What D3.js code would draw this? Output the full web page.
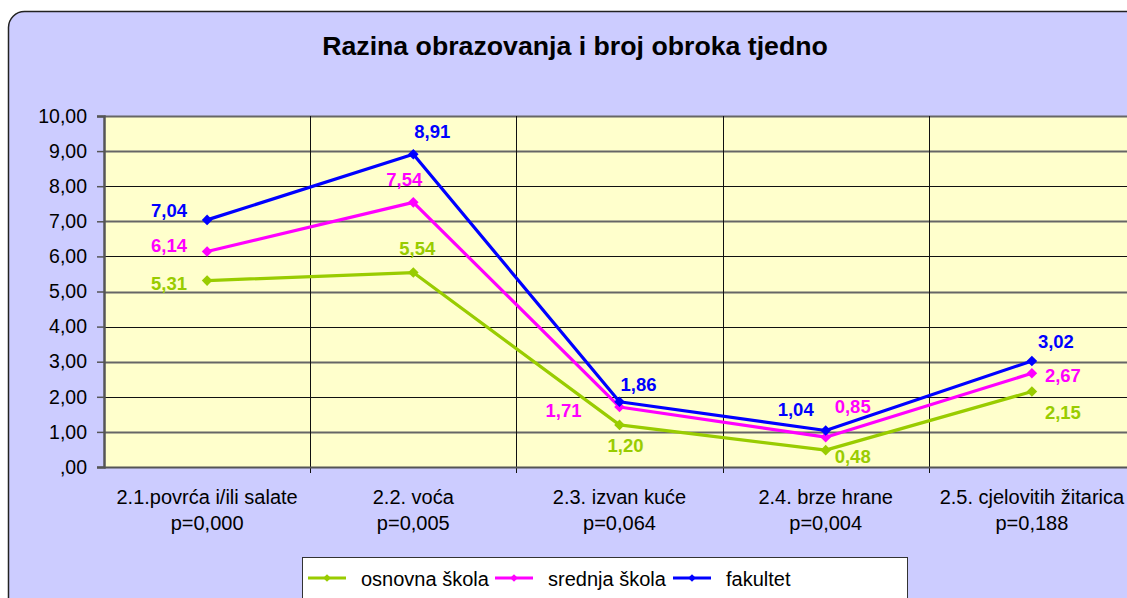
<!DOCTYPE html>
<html>
<head>
<meta charset="utf-8">
<script src="https://cdn.jsdelivr.net/npm/d3@7"></script>
<style>
  body { margin: 0; background: #fff; }
  svg { font-family: Arial, "Liberation Sans", sans-serif; display: block; }
</style>
</head>
<body>
<svg class="chart" width="1127" height="598"></svg>
<script>
var categories = ["2.1.povrća i/ili salate", "2.2. voća", "2.3. izvan kuće", "2.4. brze hrane", "2.5. cjelovitih žitarica"];
var pValues = ["p=0,000", "p=0,005", "p=0,064", "p=0,004", "p=0,188"];
var seriesNames = ["osnovna škola", "srednja škola", "fakultet"];
var osnovna = [5.31, 5.54, 1.20, 0.48, 2.15];
var srednja = [6.14, 7.54, 1.71, 0.85, 2.67];
var fakultet = [7.04, 8.91, 1.86, 1.04, 3.02];
var yTicks = [0, 1, 2, 3, 4, 5, 6, 7, 8, 9, 10];

var colors = ["#99CC00", "#FF00FF", "#0000FF"];
// label offset from its point, per series per point: [dx, dy] (text centred)
var labelPos = [
  [[-38, 9], [4, -18], [6, 27], [27, 13], [31, 27]],
  [[-38, 1], [-9, -16], [-56, 10], [27, -24], [31, 9]],
  [[-38, -3], [19, -16], [19, -11], [-30, -14], [24, -13]]
];

var svg = d3.select(".chart");
var fmt = function(v) { return d3.format(".2f")(v).replace(/^0/, "").replace(".", ","); };
var fmtLbl = function(v) { return d3.format(".2f")(v).replace(".", ","); };

svg.append("rect")
  .attr("x", 8.5).attr("y", 11.5)
  .attr("width", 1140).attr("height", 610)
  .attr("rx", 16).attr("ry", 16)
  .attr("fill", "#CCCCFF").attr("stroke", "#222").attr("stroke-width", 1.5);

svg.append("text")
  .attr("x", 575).attr("y", 55)
  .attr("text-anchor", "middle")
  .attr("font-size", 26.7).attr("font-weight", "bold")
  .text("Razina obrazovanja i broj obroka tjedno");

var plotLeft = 104, plotTop = 116, plotBottom = 467, bandW = 206.2;
var x = d3.scaleBand().domain(categories).range([plotLeft, plotLeft + bandW * 5]);
var y = d3.scaleLinear().domain([0, 10]).range([plotBottom, plotTop]);

svg.append("rect")
  .attr("x", plotLeft).attr("y", plotTop)
  .attr("width", bandW * 5).attr("height", plotBottom - plotTop)
  .attr("fill", "#FFFFCC");

// horizontal grid
svg.append("g").selectAll("line").data(yTicks.slice(1)).enter().append("line")
  .attr("x1", plotLeft).attr("x2", plotLeft + bandW * 5)
  .attr("y1", function(d) { return Math.round(y(d)) + 0.5; })
  .attr("y2", function(d) { return Math.round(y(d)) + 0.5; })
  .attr("stroke", function(d) { return (d % 2 || d == 10) ? "#666" : "#111"; })
  .attr("stroke-width", function(d) { return (d % 2 || d == 10) ? 1.8 : 1.2; });

// vertical grid at category boundaries
svg.append("g").selectAll("line").data(categories.slice(1)).enter().append("line")
  .attr("x1", function(d) { return Math.round(x(d)) + 0.5; })
  .attr("x2", function(d) { return Math.round(x(d)) + 0.5; })
  .attr("y1", plotTop).attr("y2", plotBottom + 6)
  .attr("stroke", "#111").attr("stroke-width", 1);

// x axis line
svg.append("line")
  .attr("x1", plotLeft).attr("x2", plotLeft + bandW * 5)
  .attr("y1", plotBottom + 0.5).attr("y2", plotBottom + 0.5)
  .attr("stroke", "#555").attr("stroke-width", 2);

// y axis
var yAxis = svg.append("g")
  .attr("transform", "translate(" + plotLeft + ",0)")
  .call(d3.axisLeft(y).tickValues(yTicks).tickSize(7).tickPadding(10).tickFormat(fmt));
yAxis.select(".domain").attr("stroke", "#555").attr("stroke-width", 2.5);
yAxis.selectAll(".tick line").attr("stroke", "#555").attr("stroke-width", 1.5);
yAxis.selectAll(".tick text").attr("font-size", 19.5).attr("fill", "#000")
  .attr("font-family", "Arial, 'Liberation Sans', sans-serif");

// x labels
var xl = svg.append("g").selectAll("text").data(categories).enter().append("text")
  .attr("text-anchor", "middle").attr("font-size", 20);
xl.append("tspan").attr("x", function(d) { return x(d) + x.bandwidth() / 2; })
  .attr("y", 504).text(function(d) { return d; });
xl.append("tspan").attr("x", function(d) { return x(d) + x.bandwidth() / 2; })
  .attr("y", 530).text(function(d, i) { return pValues[i]; });

var series = [osnovna, srednja, fakultet];
var cx = function(i) { return x(categories[i]) + x.bandwidth() / 2; };
var line = d3.line()
  .x(function(d, i) { return cx(i); })
  .y(function(d) { return y(d); });
var diamond = d3.symbol().type(d3.symbolSquare).size(56);

series.forEach(function(s, si) {
  var g = svg.append("g");
  g.append("path").datum(s).attr("d", line)
    .attr("fill", "none").attr("stroke", colors[si]).attr("stroke-width", 3.2)
    .attr("stroke-linejoin", "round");
  g.selectAll("path.pt").data(s).enter().append("path").attr("class", "pt")
    .attr("d", diamond)
    .attr("transform", function(d, i) { return "translate(" + cx(i) + "," + y(d) + ") rotate(45)"; })
    .attr("fill", colors[si]);
  g.selectAll("text").data(s).enter().append("text")
    .attr("x", function(d, i) { return cx(i) + labelPos[si][i][0]; })
    .attr("y", function(d, i) { return y(d) + labelPos[si][i][1]; })
    .attr("text-anchor", "middle")
    .attr("font-size", 18.5).attr("font-weight", "bold").attr("fill", colors[si])
    .text(fmtLbl);
});

// legend
var lg = svg.append("g");
lg.append("rect").attr("x", 302.5).attr("y", 557.5).attr("width", 605).attr("height", 60)
  .attr("fill", "#fff").attr("stroke", "#333").attr("stroke-width", 1);
var legX = [308, 495, 673];
seriesNames.forEach(function(n, i) {
  lg.append("line").attr("x1", legX[i]).attr("x2", legX[i] + 38)
    .attr("y1", 578).attr("y2", 578).attr("stroke", colors[i]).attr("stroke-width", 3);
  lg.append("path").attr("d", d3.symbol().type(d3.symbolSquare).size(30))
    .attr("transform", "translate(" + (legX[i] + 19) + ",578) rotate(45)").attr("fill", colors[i]);
  lg.append("text").attr("x", legX[i] + 53).attr("y", 586)
    .attr("font-size", 20).text(n);
});
</script>
</body>
</html>
